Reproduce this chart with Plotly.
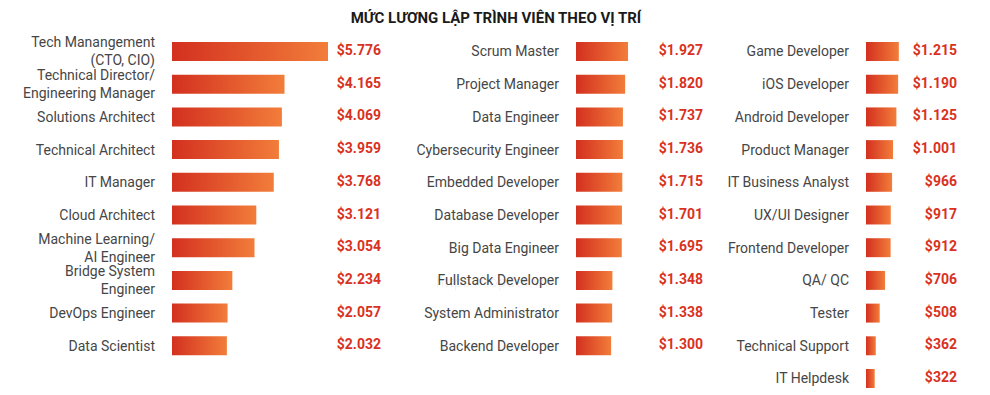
import plotly.graph_objects as go

# ---------------- data ----------------
title_text = "MỨC LƯƠNG LẬP TRÌNH VIÊN THEO VỊ TRÍ"

left_roles = ["Tech Manangement<br>(CTO, CIO)", "Technical Director/<br>Engineering Manager",
              "Solutions Architect", "Technical Architect", "IT Manager", "Cloud Architect",
              "Machine Learning/<br>AI Engineer", "Bridge System<br>Engineer", "DevOps Engineer",
              "Data Scientist"]
left_salary = [5776, 4165, 4069, 3959, 3768, 3121, 3054, 2234, 2057, 2032]

mid_roles = ["Scrum Master", "Project Manager", "Data Engineer", "Cybersecurity Engineer",
             "Embedded Developer", "Database Developer", "Big Data Engineer",
             "Fullstack Developer", "System Administrator", "Backend Developer"]
mid_salary = [1927, 1820, 1737, 1736, 1715, 1701, 1695, 1348, 1338, 1300]

right_roles = ["Game Developer", "iOS Developer", "Android Developer", "Product Manager",
               "IT Business Analyst", "UX/UI Designer", "Frontend Developer", "QA/ QC",
               "Tester", "Technical Support", "IT Helpdesk"]
right_salary = [1215, 1190, 1125, 1001, 966, 917, 912, 706, 508, 362, 322]

panels = [(left_roles, left_salary), (mid_roles, mid_salary), (right_roles, right_salary)]

# ---------------- layout / style ----------------
OFF = 8                            # page body margin in the browser
W, H = 990 - OFF, 395 - OFF        # figure size so it fits in the window
PX_PER_UNIT = 0.02701              # px per dollar (same scale for all panels)
panel_px = [(172, 381), (576, 703), (866, 957)]   # bar origin px, value label right edge px
ROW0_PX, ROW_STEP = 51.5 - OFF, 32.7
HALF = 0.29
GRAD = [[0, "#d3301f"], [1, "#f27d3a"]]
LABEL_FONT = dict(family="Roboto, Arial, sans-serif", size=14, color="#464646")
VALUE_FONT = dict(family="Roboto, Arial, sans-serif", size=14, color="#d8321f")


def fmt(v):
    return "$" + f"{v:,}".replace(",", ".")


fig = go.Figure()
y_range = [(H - ROW0_PX) / ROW_STEP, -ROW0_PX / ROW_STEP]

for p, ((roles, vals), (x0px, x1px)) in enumerate(zip(panels, panel_px)):
    sfx = "" if p == 0 else str(p + 1)
    xa, ya = "x" + sfx, "y" + sfx
    xmax = (x1px - x0px) / PX_PER_UNIT
    idx = list(range(len(vals)))
    for i, v in zip(idx, vals):
        fig.add_trace(go.Scatter(
            x=[0, v, v, 0, 0], y=[i - HALF, i - HALF, i + HALF, i + HALF, i - HALF],
            mode="lines", fill="toself", line=dict(width=0),
            fillgradient=dict(type="horizontal", colorscale=GRAD),
            hoverinfo="skip", showlegend=False, xaxis=xa, yaxis=ya))
    fig.add_trace(go.Scatter(
        x=[xmax] * len(vals), y=idx, mode="text", text=[fmt(v) for v in vals],
        textposition="middle left", textfont=VALUE_FONT, texttemplate="<b>%{text}</b>",
        hoverinfo="skip", showlegend=False, xaxis=xa, yaxis=ya))
    fig.update_layout(**{
        ("xaxis" + sfx): dict(domain=[(x0px - OFF) / W, (x1px - OFF) / W], range=[0, xmax],
                              visible=False, fixedrange=True),
        ("yaxis" + sfx): dict(range=y_range, anchor=xa, tickvals=idx, ticktext=roles,
                              showgrid=False, zeroline=False, showline=False, ticks="",
                              ticklabelstandoff=16, tickfont=LABEL_FONT, fixedrange=True),
    })

# faint watermark url
fig.add_annotation(text="https://topdev.vn", x=(492 - OFF) / W, y=1 - (293 - OFF) / H,
                   xref="paper", yref="paper", showarrow=False,
                   font=dict(family="Roboto, sans-serif", size=15, color="rgba(0,0,0,0.07)"))

fig.update_layout(
    width=W, height=H, margin=dict(l=0, r=0, t=0, b=0),
    paper_bgcolor="white", plot_bgcolor="rgba(0,0,0,0)",
    title=dict(text="<b>" + title_text + "</b>", x=(496 - OFF) / W, xanchor="center",
               y=1 - (17.5 - OFF) / H, yanchor="middle",
               font=dict(family="Roboto, Arial, sans-serif", size=15, color="#1a1a1a")),
)

fig.write_html("out.html")
